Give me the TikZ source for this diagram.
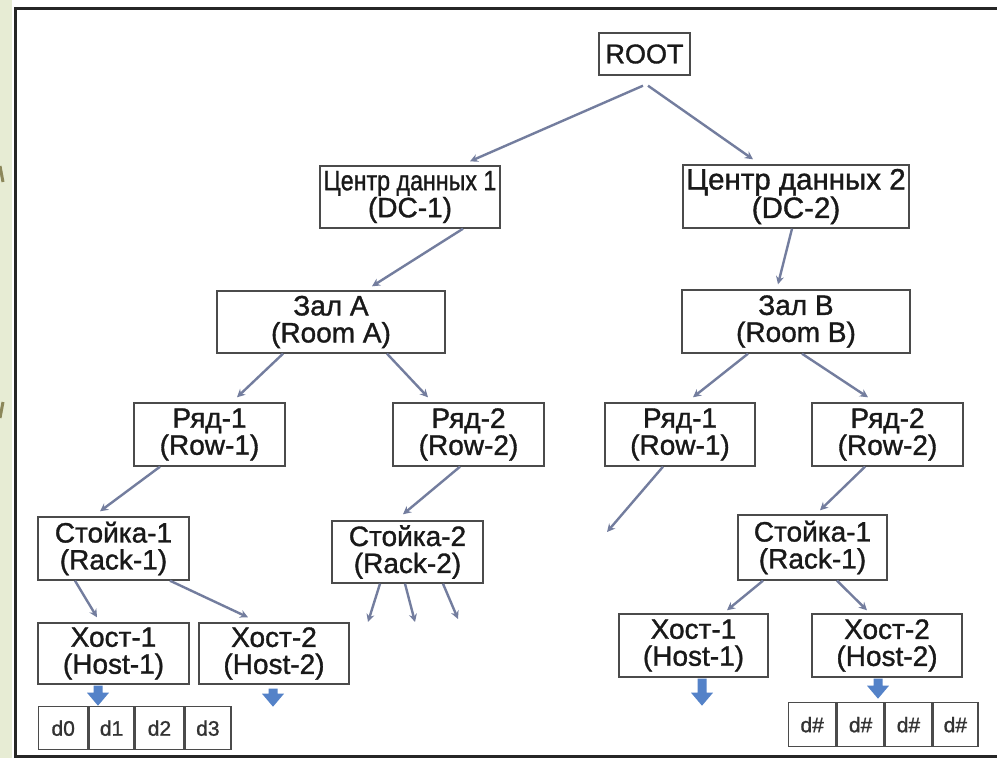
\documentclass[tikz,border=0pt]{standalone}
\usepackage{fontspec}
\setmainfont{Liberation Sans}[UprightFeatures={FakeBold=1.2}]
\usepackage{graphicx}
\usetikzlibrary{arrows.meta}

\definecolor{conn}{RGB}{115,125,158}
\definecolor{boxline}{RGB}{75,75,75}
\definecolor{blockblue}{RGB}{84,130,200}
\definecolor{slidebg}{RGB}{231,236,212}
\definecolor{olivemark}{RGB}{140,135,90}

\begin{document}
\begin{tikzpicture}[x=1pt,y=-1pt,
  box/.style={draw=boxline, line width=1.4pt, rectangle, inner sep=0pt,
    align=center, text=black!90, font=\fontsize{28}{27}\selectfont},
  cell/.style={draw=boxline, line width=1.4pt, rectangle, inner sep=0pt,
    text=black!80, font=\fontsize{21}{21}\selectfont},
  link/.style={draw=conn, line width=2.4pt, -{Stealth[length=8pt,width=8pt]}},
  pics/fatdown/.style={code={
    \fill[blockblue] (-4.5,0) -- (4.5,0) -- (4.5,#1) -- (11,#1)
      -- (0,{#1+13}) -- (-11,#1) -- (-4.5,#1) -- cycle;}}
]
\useasboundingbox (0,0) rectangle (997,758);

% slide background and frame
\fill[white] (0,0) rectangle (997,758);
\fill[slidebg] (0,0) rectangle (12,758);
\draw[olivemark, line width=3pt] (0,166) -- (3,182);
\draw[olivemark, line width=3pt] (0,418) -- (3,402);
\draw[black!85, line width=3pt] (1000,8) -- (15,8) -- (15,756) -- (1000,756);

% tree nodes
\node[box, minimum width=91pt, minimum height=42pt, font=\fontsize{27}{27}\selectfont]
  (root) at (644.5,54) {ROOT};
\node[box, minimum width=180pt, minimum height=62pt]
  (dc1) at (410,197) {\scalebox{0.83}[1]{Центр данных 1}\\(DC-1)};
\node[box, minimum width=226pt, minimum height=63pt, font=\fontsize{29.5}{27}\selectfont]
  (dc2) at (796,196.5) {Центр данных 2\\(DC-2)};
\node[box, minimum width=228pt, minimum height=62pt] (zala) at (331,322) {Зал А\\(Room A)};
\node[box, minimum width=228pt, minimum height=63pt] (zalb) at (796,321.5) {Зал В\\(Room B)};

\node[box, minimum width=151pt, minimum height=63pt] (rowal) at (209.5,434.5) {Ряд-1\\(Row-1)};
\node[box, minimum width=151pt, minimum height=63pt] (rowar) at (468.5,434.5) {Ряд-2\\(Row-2)};
\node[box, minimum width=150pt, minimum height=63pt] (rowbl) at (680,434.5) {Ряд-1\\(Row-1)};
\node[box, minimum width=151pt, minimum height=63pt] (rowbr) at (887.5,434.5) {Ряд-2\\(Row-2)};

\node[box, minimum width=151pt, minimum height=63pt] (racka) at (113.5,548.5) {Стойка-1\\(Rack-1)};
\node[box, minimum width=151pt, minimum height=62pt] (rackb) at (407.5,552) {Стойка-2\\(Rack-2)};
\node[box, minimum width=149pt, minimum height=65pt] (rackc) at (812.5,547.5) {Стойка-1\\(Rack-1)};

\node[box, minimum width=151pt, minimum height=61pt] (hosta) at (113.5,653.5) {Хост-1\\(Host-1)};
\node[box, minimum width=150pt, minimum height=61pt] (hostb) at (274,653.5) {Хост-2\\(Host-2)};
\node[box, minimum width=149pt, minimum height=63pt] (hostc) at (693.5,645.5) {Хост-1\\(Host-1)};
\node[box, minimum width=150pt, minimum height=63pt] (hostd) at (887,645.5) {Хост-2\\(Host-2)};

% disk cells
\node[cell, minimum width=49pt, minimum height=43pt, anchor=north west] (da0) at (38,706) {d0};
\node[cell, minimum width=45pt, minimum height=43pt, anchor=west] (da1) at (da0.east) {d1};
\node[cell, minimum width=48pt, minimum height=43pt, anchor=west] (da2) at (da1.east) {d2};
\node[cell, minimum width=46pt, minimum height=43pt, anchor=west] (da3) at (da2.east) {d3};

\node[cell, minimum width=47pt, minimum height=44pt, anchor=north west] (db0) at (788,702) {d\#};
\node[cell, minimum width=47pt, minimum height=44pt, anchor=west] (db1) at (db0.east) {d\#};
\node[cell, minimum width=46pt, minimum height=44pt, anchor=west] (db2) at (db1.east) {d\#};
\node[cell, minimum width=45pt, minimum height=44pt, anchor=west] (db3) at (db2.east) {d\#};

% free ends of connectors
\coordinate (openb) at (607,532);
\coordinate (open1) at (368,622);
\coordinate (open2) at (415,622);
\coordinate (open3) at (458,619);

% connectors
\draw[link] ([xshift=-1.5pt,yshift=-10pt]root.south) -- ([xshift=60pt,yshift=4pt]dc1.north);
\draw[link] ([xshift=3.5pt,yshift=-10pt]root.south) -- ([xshift=-43pt,yshift=5pt]dc2.north);
\draw[link] ([xshift=53pt]dc1.south) -- ([xshift=41pt,yshift=4pt]zala.north);
\draw[link] ([xshift=-4pt]dc2.south) -- ([xshift=-18pt,yshift=5pt]zalb.north);

\draw[link] ([xshift=-48pt]zala.south) -- ([xshift=27.5pt,yshift=5pt]rowal.north);
\draw[link] ([xshift=56pt]zala.south) -- ([xshift=-40.5pt,yshift=5pt]rowar.north);
\draw[link] ([xshift=-48pt]zalb.south) -- ([xshift=13pt,yshift=5pt]rowbl.north);
\draw[link] ([xshift=6pt]zalb.south) -- ([xshift=-19.5pt,yshift=5pt]rowbr.north);

\draw[link] ([xshift=-49.5pt]rowal.south) -- ([xshift=-13.5pt,yshift=5pt]racka.north);
\draw[link] ([xshift=-8.5pt]rowar.south) -- ([xshift=-4.5pt,yshift=6pt]rackb.north);
\draw[link] ([xshift=-17pt]rowbl.south) -- (openb);
\draw[link] ([xshift=-22.5pt]rowbr.south) -- ([xshift=7.5pt,yshift=4pt]rackc.north);

\draw[link] ([xshift=-38.5pt]racka.south) -- ([xshift=-16.5pt,yshift=5pt]hosta.north);
\draw[link] ([xshift=56.5pt]racka.south) -- ([xshift=-26pt,yshift=5pt]hostb.north);
\draw[link] ([xshift=-27.5pt]rackb.south) -- (open1);
\draw[link] ([xshift=-2.5pt]rackb.south) -- (open2);
\draw[link] ([xshift=35.5pt]rackb.south) -- (open3);
\draw[link] ([xshift=-49.5pt]rackc.south) -- ([xshift=33.5pt,yshift=3pt]hostc.north);
\draw[link] ([xshift=24.5pt]rackc.south) -- ([xshift=-20pt,yshift=3pt]hostd.north);

% block arrows under the hosts
\pic at ([xshift=-15.5pt,yshift=-1pt]hosta.south) {fatdown=7};
\pic at ([xshift=-1pt,yshift=-4pt]hostb.south) {fatdown=5};
\pic at ([xshift=8.5pt,yshift=-1pt]hostc.south) {fatdown=14};
\pic at ([xshift=-9pt,yshift=-1pt]hostd.south) {fatdown=7};
\end{tikzpicture}
\end{document}
